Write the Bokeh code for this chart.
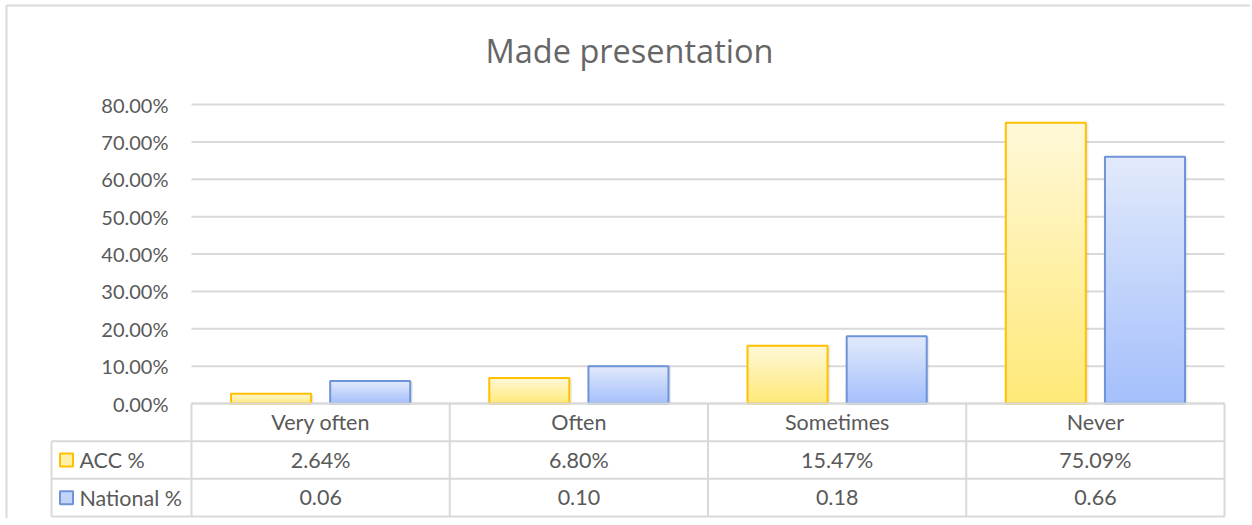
from bokeh.plotting import figure
from bokeh.models import Range1d, FixedTicker, NumeralTickFormatter, ColumnDataSource
from bokeh.core.properties import value
from bokeh.embed import file_html
from bokeh.resources import INLINE

# ---------------- data ----------------
categories = ["Very often", "Often", "Sometimes", "Never"]
series_names = ["ACC %", "National %"]
acc_pct = [0.0264, 0.0680, 0.1547, 0.7509]
national_pct = [0.06, 0.10, 0.18, 0.66]
y_ticks = [0.0, 0.1, 0.2, 0.3, 0.4, 0.5, 0.6, 0.7, 0.8]
title_text = "Made presentation"

# ---------------- style / layout ----------------
FONT = "Lato"
TITLE_FONT = "Open Sans"
TXT = "#595959"
GRID = "#D9D9D9"
ACC_TOP, ACC_BOT, ACC_LINE = "#FFF8D8", "#FFE978", "#FFC000"
NAT_TOP, NAT_BOT, NAT_LINE = "#E2EAFB", "#A4BFFB", "#6F93D8"
W, H = 1250, 518
PX_X, PX_Y = 258.25, 373.75      # pixels per category / per 1.0 on the value axis
ORG_X, ORG_Y = 191, 403          # canvas pixel position of (0, 0)
BAR_W = 0.31
OFF = 0.192
LEFT_EXT = 0.542                 # legend column width, in category widths
ROW = 0.1008                     # table row height, in value units
N = 90                           # gradient slices per bar
nc = len(categories)
centers = [i + 0.5 for i in range(nc)]


def cx(px):
    return (px - ORG_X) / PX_X


def cy(py):
    return (ORG_Y - py) / PX_Y


def lerp_hex(c1, c2, t):
    a = [int(c1[i:i + 2], 16) for i in (1, 3, 5)]
    b = [int(c2[i:i + 2], 16) for i in (1, 3, 5)]
    return "#%02x%02x%02x" % tuple(round(a[j] + (b[j] - a[j]) * t) for j in range(3))


def gradient_source(values, off, top_c, bot_c):
    xs, tops, bottoms, colors = [], [], [], []
    for c, v in zip(centers, values):
        for k in range(N):
            xs.append(c + off)
            bottoms.append(v * k / N)
            tops.append(v)
            colors.append(lerp_hex(bot_c, top_c, (k + 0.5) / N))
    return ColumnDataSource(dict(x=xs, top=tops, bottom=bottoms, color=colors))


p = figure(width=W, height=H, x_range=Range1d(cx(0), cx(W)), y_range=Range1d(cy(H), cy(0)),
           output_backend="svg", toolbar_location=None,
           min_border_left=0, min_border_right=0, min_border_top=0, min_border_bottom=0)
p.outline_line_color = None
p.xaxis.visible = False
p.grid.visible = False

# y axis drawn at the left edge of the bar area (x = 0)
p.yaxis.fixed_location = 0
p.yaxis.ticker = FixedTicker(ticks=y_ticks)
p.yaxis.formatter = NumeralTickFormatter(format="0.00%")
p.yaxis.axis_line_color = None
p.yaxis.major_tick_line_color = None
p.yaxis.minor_tick_line_color = None
p.yaxis.major_label_standoff = 17
p.yaxis.major_label_text_font = FONT
p.yaxis.major_label_text_font_size = "20px"
p.yaxis.major_label_text_color = TXT

# chart border (left / top)
p.segment(x0=[cx(6), cx(6)], y0=[cy(5), cy(5)], x1=[cx(6), cx(W)], y1=[cy(H), cy(5)],
          line_color=GRID, line_width=2)

# title
p.text(x=[cx(629)], y=[cy(50)], text=[title_text], text_align="center", text_baseline="alphabetic",
       text_font=value(TITLE_FONT), text_font_size="32.5px", text_color="#666666")

# gridlines across the bar area only
p.segment(x0=[0] * len(y_ticks), x1=[nc] * len(y_ticks), y0=y_ticks, y1=y_ticks,
          line_color=GRID, line_width=2)

# bars with vertical gradient and a faint shadow
for vals, off, tc, bc, lc in [(acc_pct, -OFF, ACC_TOP, ACC_BOT, ACC_LINE),
                              (national_pct, OFF, NAT_TOP, NAT_BOT, NAT_LINE)]:
    p.vbar(x=[c + off + 0.006 for c in centers], width=BAR_W + 0.008, top=[v - 0.002 for v in vals],
           bottom=0, fill_color="#000000", fill_alpha=0.08, line_color=None)
    src = gradient_source(vals, off, tc, bc)
    p.vbar(x="x", width=BAR_W, top="top", bottom="bottom", fill_color="color", line_color=None, source=src)
    p.vbar(x=[c + off for c in centers], width=BAR_W, top=vals, bottom=0,
           fill_color=None, line_color=lc, line_width=2)

# ---------------- data table ----------------
x0s, y0s, x1s, y1s = [], [], [], []
for i in range(nc + 1):
    x0s.append(i); y0s.append(0); x1s.append(i); y1s.append(-3 * ROW)
x0s.append(-LEFT_EXT); y0s.append(-ROW); x1s.append(-LEFT_EXT); y1s.append(-3 * ROW)
x0s.append(0); y0s.append(0); x1s.append(nc); y1s.append(0)
for r in (1, 2, 3):
    x0s.append(-LEFT_EXT); y0s.append(-r * ROW); x1s.append(nc); y1s.append(-r * ROW)
p.segment(x0=x0s, y0=y0s, x1=x1s, y1=y1s, line_color=GRID, line_width=2)

acc_labels = ["%.2f%%" % (v * 100) for v in acc_pct]
nat_labels = ["%.2f" % v for v in national_pct]
for r, labels in [(0.5, categories), (1.5, acc_labels), (2.5, nat_labels)]:
    p.text(x=centers, y=[-r * ROW] * nc, text=labels, text_align="center", text_baseline="middle",
           text_font=value(FONT), text_font_size="21.5px", text_color=TXT)

sw_x = -LEFT_EXT + 0.058
p.scatter(x=[sw_x, sw_x], y=[-1.5 * ROW, -2.5 * ROW], marker="square", size=13,
          fill_color=[lerp_hex(ACC_BOT, ACC_TOP, 0.5), lerp_hex(NAT_BOT, NAT_TOP, 0.5)],
          line_color=[ACC_LINE, NAT_LINE], line_width=2)
p.text(x=[sw_x + 0.05, sw_x + 0.05], y=[-1.5 * ROW, -2.5 * ROW], text=series_names, text_align="left",
       text_baseline="middle", text_font=value(FONT), text_font_size="21.5px", text_color=TXT)

open("out.html", "w").write(file_html(p, INLINE))
